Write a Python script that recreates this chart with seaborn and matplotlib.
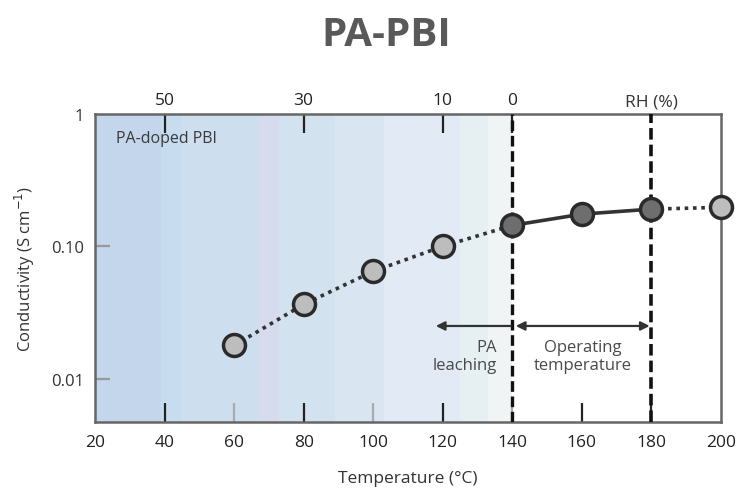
import numpy as np
import pandas as pd
import seaborn as sns
import matplotlib.pyplot as plt
from matplotlib.ticker import FixedLocator, NullLocator

# conductivity
temps = [60, 80, 100, 120, 140, 160, 180, 200]
cond = [0.0178, 0.0364, 0.0647, 0.100, 0.144, 0.175, 0.191, 0.197]
# which points are in the operating window (dark markers)
operating = [False, False, False, False, True, True, True, False]

rh_ticks = [40, 80, 120, 140]
rh_labels = ['50', '30', '10', '0']
x_ticks = [20, 40, 60, 80, 100, 120, 140, 160, 180, 200]
y_ticks = [0.01, 0.10, 1]
y_labels = ['0.01', '0.10', '1']

# background bands (temperature edges) and their colours
band_edges = [20, 39, 45, 67, 73, 89, 103, 125, 133, 140]
band_colors = ['#c3d6ec', '#c8dcef', '#cddeef', '#d6dcee', '#d2e2ee',
               '#d9e5f1', '#e2eaf5', '#e6eff2', '#f0f4f4']

df = pd.DataFrame({'T': temps, 'cond': cond, 'op': operating})

sns.set_style('white')
plt.rcParams['font.family'] = ['Open Sans', 'DejaVu Sans']

fig = plt.figure(figsize=(7.43, 4.89), dpi=100)
ax = fig.add_axes([95 / 743, 1 - 423 / 489, 626 / 743, 308 / 489])

for i, c in enumerate(band_colors):
    ax.axvspan(band_edges[i], band_edges[i + 1], color=c, lw=0, zorder=0)

line_col = '#333333'
sns.lineplot(data=df[df['T'] <= 140], x='T', y='cond', ax=ax, color=line_col,
             lw=2.6, linestyle=(0, (1, 1.3)), zorder=2)
sns.lineplot(data=df[(df['T'] >= 140) & (df['T'] <= 180)], x='T', y='cond',
             ax=ax, color=line_col, lw=2.6, zorder=2)
sns.lineplot(data=df[df['T'] >= 180], x='T', y='cond', ax=ax, color=line_col,
             lw=2.6, linestyle=(0, (1, 1.3)), zorder=2)

sns.scatterplot(data=df[~df['op']], x='T', y='cond', ax=ax, s=250,
                color='#bdbdbd', edgecolor='#2a2a2a', linewidth=2.5,
                zorder=4, clip_on=False)
sns.scatterplot(data=df[df['op']], x='T', y='cond', ax=ax, s=250,
                color='#6e6e6e', edgecolor='#2a2a2a', linewidth=2.5,
                zorder=4, clip_on=False)

ax.set_yscale('log')
ax.set_xlim(20, 200)
ax.set_ylim(0.0047, 1.0)

# dashed boundaries
ax.axvline(140, color='#111111', lw=2.4, ls=(0, (3.2, 1.4)), zorder=3)
ax.axvline(180, color='#111111', lw=2.6, ls=(0, (3.2, 1.4)), zorder=3)

# arrows
ay = 0.025
ax.annotate('', xy=(118, ay), xytext=(139.5, ay),
            arrowprops=dict(arrowstyle='-|>', color='#333333', lw=1.6,
                            mutation_scale=13, shrinkA=0, shrinkB=0))
ax.annotate('', xy=(141, ay), xytext=(179.5, ay),
            arrowprops=dict(arrowstyle='<|-|>', color='#333333', lw=1.6,
                            mutation_scale=13, shrinkA=0, shrinkB=0))
ax.text(135.5, 0.0148, 'PA\nleaching', ha='right', va='center', fontsize=12,
        color='#4a4a4a', linespacing=1.1)
ax.text(160.3, 0.0148, 'Operating\ntemperature', ha='center', va='center',
        fontsize=12, color='#4a4a4a', linespacing=1.1)
ax.text(26, 0.66, 'PA-doped PBI', ha='left', va='center', fontsize=11.5,
        color='#3a3a3a')

ax.set_xticks(x_ticks)
ax.set_xticklabels([str(t) for t in x_ticks])
ax.yaxis.set_major_locator(FixedLocator(y_ticks))
ax.set_yticklabels(y_labels)
ax.yaxis.set_minor_locator(NullLocator())
ax.tick_params(axis='x', bottom=True, direction='in', length=14, width=1.6,
               colors='#222222', labelsize=12.5, pad=9)
ax.tick_params(axis='y', left=True, direction='in', length=11, width=1.6,
               colors='#999999', labelsize=12, labelcolor='#333333', pad=8)

top = ax.secondary_xaxis('top')
top.set_xticks(rh_ticks)
top.set_xticklabels(rh_labels)
top.tick_params(top=True, direction='in', length=14, width=1.6,
                colors='#222222', labelsize=12.5, pad=4)
top.spines['top'].set_visible(False)
ax.text(180, 1.09, 'RH (%)', ha='center', va='bottom', fontsize=12.5,
        color='#333333')

for s in ax.spines.values():
    s.set_color('#666666')
    s.set_linewidth(1.8)

ax.set_xlabel('Temperature (°C)', fontsize=12.5, color='#333333', labelpad=14)
ax.set_ylabel('Conductivity (S cm$^{-1}$)', fontsize=12, color='#333333',
              labelpad=10)

fig.text(386 / 743, 1 - 35 / 489, 'PA-PBI', ha='center', va='center',
         fontsize=29, fontweight='bold', color='#595959')

# light ticks at 60, 100, 140; none drawn at the ends
fig.canvas.draw()
for tick in ax.xaxis.get_major_ticks():
    t = round(tick.get_loc())
    if t in (60, 100, 140):
        tick.tick1line.set_markeredgecolor('#aaaaaa')
    if t in (20, 200):
        tick.tick1line.set_visible(False)
for tick in ax.yaxis.get_major_ticks():
    if tick.get_loc() > 0.5:
        tick.tick1line.set_visible(False)

fig.savefig('out.png', dpi=100)
